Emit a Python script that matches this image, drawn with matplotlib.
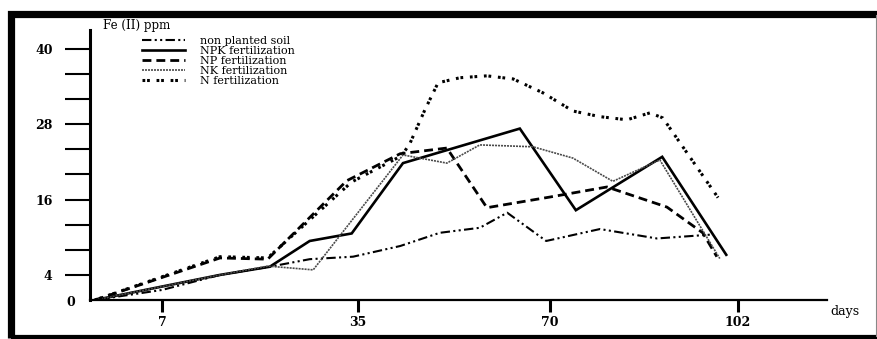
import numpy as np
import matplotlib
matplotlib.use("Agg")
import matplotlib.pyplot as plt
from matplotlib.patches import Rectangle
from matplotlib.lines import Line2D

# ---------------- data ----------------
tick_days = [7, 35, 70, 102]
y_major = [4, 16, 28, 40]
y_minor = [8, 12, 20, 24, 32, 36]

non_planted_days = [0, 7, 15.3, 22.4, 28.1, 34.3, 42.7, 49.9, 57.2, 62.2, 69.3, 78.5, 88.2, 97.2]
non_planted_vals = [0, 1.6, 4.0, 5.3, 6.5, 6.9, 8.6, 10.7, 11.5, 13.9, 9.4, 11.3, 9.8, 10.4]

npk_days = [0, 15.3, 22.4, 28.1, 34.1, 43.2, 64.5, 74.4, 89.1, 100.0]
npk_vals = [0, 4.0, 5.3, 9.4, 10.6, 21.8, 27.3, 14.3, 22.8, 7.2]

np_days = [0, 15.3, 22.1, 33.4, 42.7, 51.2, 58.5, 70.0, 79.7, 89.9, 96.0, 98.4]
np_vals = [0, 6.7, 6.5, 19.0, 23.3, 24.2, 14.7, 16.4, 18.0, 14.8, 10.7, 6.9]

nk_days = [0, 15.3, 22.1, 28.6, 43.2, 51.2, 57.2, 66.9, 73.9, 80.7, 88.7, 98.9]
nk_vals = [0, 4.0, 5.4, 4.8, 23.1, 21.8, 24.7, 24.4, 22.6, 18.9, 22.3, 6.6]

n_days = [0, 15.3, 22.1, 34.1, 43.0, 44.5, 47.2, 49.6, 53.6, 58.5, 63.3, 68.7, 73.9, 78.5, 83.1, 87.0, 89.2, 98.6]
n_vals = [0, 6.9, 6.7, 18.8, 23.0, 25.0, 30.3, 34.6, 35.4, 35.7, 35.2, 33.0, 30.1, 29.2, 28.7, 29.8, 29.0, 16.3]

labels = ["non planted soil", "NPK fertilization", "NP fertilization",
          "NK fertilization", "N fertilization"]

# ---------------- figure ----------------
W, H = 878, 339
fig = plt.figure(figsize=(W / 100, H / 100), dpi=100)
SERIF = ["DejaVu Serif"]
plt.rcParams["font.family"] = SERIF

def fx(p):
    return p / W

def fy(p):
    return 1 - p / H

ax = fig.add_axes([fx(90), fy(300), fx(827) - fx(90), fy(30) - fy(300)])

# hand-drawn (non-uniform) day axis of the original
anchor_days = np.array([-10, 0, 7, 35, 70, 102, 150], dtype=float)
anchor_pos = np.array([95 - 10 * 67 / 7, 95, 162, 358, 550, 738, 738 + 48 * 5.875])

def fwd(d):
    return np.interp(d, anchor_days, anchor_pos)

def inv(p):
    return np.interp(p, anchor_pos, anchor_days)

ax.set_xscale("function", functions=(fwd, inv))
ax.set_xlim(float(inv(90)), float(inv(827)))
ax.set_ylim(0, 43)

series = [
    (non_planted_days, non_planted_vals, dict(color="black", lw=1.5, dashes=(4.5, 1.6, 1.0, 1.6, 1.0, 1.6))),
    (npk_days, npk_vals, dict(color="black", lw=1.9, linestyle="-")),
    (np_days, np_vals, dict(color="black", lw=2.0, dashes=(3.2, 1.8))),
    (nk_days, nk_vals, dict(color="#4a4a4a", lw=1.2, dashes=(1.2, 0.6))),
    (n_days, n_vals, dict(color="black", lw=2.2, dashes=(0.9, 0.6, 0.9, 2.2))),
]
handles = []
for (xd, yd, st), lab in zip(series, labels):
    ln, = ax.plot(xd, yd, label=lab, solid_joinstyle="miter", **st)
    handles.append(ln)

# spines
for s in ["top", "right"]:
    ax.spines[s].set_visible(False)
ax.spines["left"].set_linewidth(2.2)
ax.spines["bottom"].set_linewidth(1.6)
ax.spines["left"].set_bounds(0, 43)

ax.set_xticks(tick_days)
ax.set_xticklabels([str(t) for t in tick_days])
ax.xaxis.set_minor_locator(matplotlib.ticker.NullLocator())
ax.tick_params(axis="x", direction="out", length=8.5, width=2.2, pad=3,
               labelsize=9)
ax.set_yticks(y_major)
ax.set_yticklabels([str(v) for v in y_major])
ax.set_yticks(y_minor, minor=True)
ax.tick_params(axis="y", which="both", direction="out", length=18, width=1.5,
               pad=9, labelsize=9)

for lab in ax.get_xticklabels() + ax.get_yticklabels():
    lab.set_fontweight("bold")

fig.text(fx(71), fy(303), "0", ha="center", va="center", fontsize=9,
         fontweight="bold")
fig.text(fx(103), fy(25), "Fe (II) ppm", ha="left", va="center", fontsize=8.5)
fig.text(fx(830), fy(312), "days", ha="left", va="center", fontsize=9)

leg = fig.legend(handles=handles, labels=labels, loc="upper left",
                 bbox_to_anchor=(fx(142), fy(36)), frameon=False,
                 fontsize=8, handlelength=3.9, handletextpad=1.35,
                 labelspacing=0.0, borderpad=0, borderaxespad=0)

# scanned-picture frame
fig.add_artist(Rectangle((fx(11), fy(338)), fx(900) - fx(11), fy(13.5) - fy(338),
                         transform=fig.transFigure, fill=False, lw=5.2,
                         edgecolor="black", clip_on=False))
fig.add_artist(Line2D([fx(876), fx(876)], [fy(15), fy(336)],
                      transform=fig.transFigure, color="#888888", lw=0.8))

fig.savefig("out.png", dpi=100)
